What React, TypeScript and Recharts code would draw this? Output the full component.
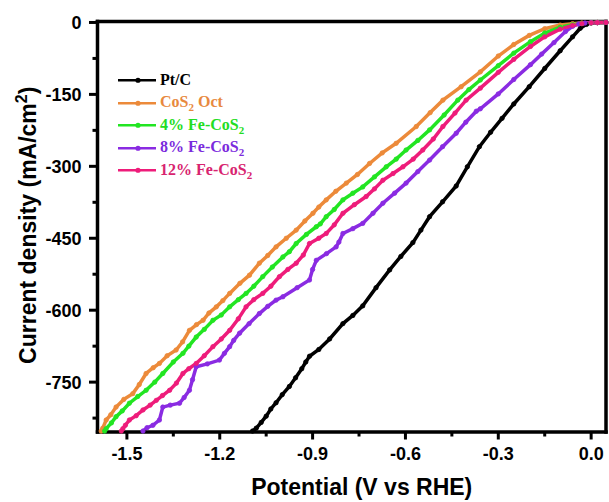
import React from 'react';
import { LineChart, Line, XAxis, YAxis, ReferenceLine } from 'recharts';

type Pt = [number, number];

// Potential (V vs RHE), current density (mA/cm2)
const ptC: Pt[] = [
  [0.048, -0.2], [0.02, -0.4], [0, -1], [-0.015, -4], [-0.035, -12], [-0.06, -30], [-0.1, -59],
  [-0.15, -96], [-0.2, -134], [-0.25, -170], [-0.288, -200], [-0.325, -229], [-0.361, -259],
  [-0.4, -301], [-0.436, -341], [-0.48, -374], [-0.522, -405], [-0.55, -433], [-0.576, -459],
  [-0.615, -488], [-0.651, -516], [-0.695, -553], [-0.738, -591], [-0.77, -611], [-0.802, -628],
  [-0.845, -660], [-0.88, -682], [-0.91, -696], [-0.922, -708], [-0.935, -722], [-0.955, -741],
  [-0.975, -759], [-0.998, -776], [-1.018, -793], [-1.035, -806], [-1.05, -821], [-1.066, -834],
  [-1.082, -846], [-1.094, -852],
];

const cos2Oct: Pt[] = [
  [0.048, 0], [0.02, -0.2], [0, -0.5], [-0.03, -1.2], [-0.06, -2.6], [-0.1, -5.5], [-0.15, -13],
  [-0.2, -27], [-0.25, -46], [-0.3, -70], [-0.358, -103], [-0.42, -134], [-0.479, -162],
  [-0.52, -188], [-0.565, -217], [-0.63, -252], [-0.675, -272], [-0.716, -294], [-0.755, -317],
  [-0.791, -335], [-0.825, -352], [-0.856, -370], [-0.88, -385], [-0.899, -398], [-0.925, -414],
  [-0.953, -433], [-0.985, -450], [-1.018, -468], [-1.045, -486], [-1.072, -502], [-1.104, -527],
  [-1.135, -544], [-1.168, -565], [-1.19, -580], [-1.211, -593], [-1.235, -606], [-1.254, -621],
  [-1.275, -630], [-1.298, -642], [-1.32, -666], [-1.341, -683], [-1.37, -695], [-1.395, -711],
  [-1.415, -720], [-1.438, -732], [-1.46, -755], [-1.481, -774], [-1.51, -786], [-1.535, -802],
  [-1.552, -818], [-1.567, -829], [-1.578, -846], [-1.583, -852],
];

const fe4: Pt[] = [
  [0.048, 0], [0.02, -0.3], [0, -0.7], [-0.03, -2], [-0.06, -4.5], [-0.1, -10], [-0.15, -22],
  [-0.196, -40], [-0.25, -64], [-0.3, -90], [-0.358, -120], [-0.395, -140], [-0.431, -162],
  [-0.475, -193], [-0.522, -224], [-0.56, -246], [-0.598, -266], [-0.63, -285], [-0.662, -301],
  [-0.7, -322], [-0.738, -343], [-0.77, -356], [-0.802, -370], [-0.83, -390], [-0.856, -405],
  [-0.875, -420], [-0.888, -426], [-0.92, -442], [-0.953, -461], [-0.975, -478], [-0.996, -489],
  [-1.03, -510], [-1.061, -530], [-1.09, -550], [-1.115, -565], [-1.14, -578], [-1.168, -593],
  [-1.195, -610], [-1.222, -621], [-1.25, -640], [-1.276, -656], [-1.3, -675], [-1.319, -690],
  [-1.35, -708], [-1.384, -732], [-1.41, -750], [-1.438, -767], [-1.465, -780], [-1.492, -794],
  [-1.515, -810], [-1.535, -822], [-1.55, -835], [-1.567, -847], [-1.572, -852],
];

const fe8: Pt[] = [
  [0.048, 0], [0.02, -0.3], [0, -0.5], [-0.02, -1.2], [-0.04, -3], [-0.06, -8], [-0.083, -19],
  [-0.12, -42], [-0.16, -66], [-0.196, -88], [-0.25, -119], [-0.3, -149], [-0.358, -180],
  [-0.371, -185], [-0.405, -208], [-0.436, -231], [-0.48, -259], [-0.522, -287], [-0.56, -311],
  [-0.598, -335], [-0.635, -356], [-0.673, -377], [-0.705, -398], [-0.738, -419], [-0.77, -430],
  [-0.802, -440], [-0.815, -458], [-0.824, -468], [-0.855, -482], [-0.888, -496], [-0.9, -515],
  [-0.91, -537], [-0.95, -553], [-0.996, -572], [-1.018, -579], [-1.045, -592], [-1.072, -607],
  [-1.105, -628], [-1.136, -648], [-1.155, -663], [-1.168, -676], [-1.185, -690], [-1.201, -704],
  [-1.24, -712], [-1.276, -718], [-1.288, -745], [-1.298, -767], [-1.315, -782], [-1.33, -794],
  [-1.36, -798], [-1.384, -802], [-1.395, -829], [-1.416, -840], [-1.435, -845], [-1.448, -852],
];

const fe12: Pt[] = [
  [0.048, 0], [0.02, -0.3], [0, -0.8], [-0.03, -2.5], [-0.06, -6], [-0.1, -14], [-0.15, -30],
  [-0.196, -50], [-0.25, -77], [-0.3, -104], [-0.358, -137], [-0.404, -162], [-0.44, -189],
  [-0.479, -217], [-0.51, -243], [-0.544, -266], [-0.575, -285], [-0.608, -301], [-0.64, -315],
  [-0.673, -329], [-0.7, -347], [-0.727, -363], [-0.765, -380], [-0.802, -398], [-0.83, -422],
  [-0.856, -440], [-0.88, -450], [-0.91, -461], [-0.93, -485], [-0.953, -502], [-0.98, -515],
  [-1.007, -530], [-1.035, -550], [-1.061, -565], [-1.09, -578], [-1.115, -593], [-1.14, -618],
  [-1.168, -642], [-1.195, -660], [-1.222, -676], [-1.25, -695], [-1.276, -711], [-1.3, -722],
  [-1.319, -732], [-1.34, -752], [-1.362, -767], [-1.385, -778], [-1.405, -788], [-1.425, -798],
  [-1.448, -808], [-1.47, -820], [-1.492, -829], [-1.505, -840], [-1.513, -847], [-1.518, -852],
];

const seriesNames = ['Pt/C', 'CoS2 Oct', '4% Fe-CoS2', '8% Fe-CoS2', '12% Fe-CoS2'];
const seriesColors = ['#000000', '#EC8A3A', '#22E522', '#8A2BE2', '#EE1C7A'];
const legendTextColors = ['#000000', '#E8893E', '#22DD22', '#7B2BDD', '#D8246F'];
const seriesValues = [ptC, cos2Oct, fe4, fe8, fe12];

const xMajorTicks = [-1.5, -1.2, -0.9, -0.6, -0.3, 0];
const xMinorTicks = [-1.35, -1.05, -0.75, -0.45, -0.15];
const yMajorTicks = [0, -150, -300, -450, -600, -750];
const yMinorTicks = [-75, -225, -375, -525, -675, -825];
const xDomain: [number, number] = [-1.595, 0.048];
const yDomain: [number, number] = [-854, 2];

const AX_FONT = '"Liberation Sans", Arial, Helvetica, sans-serif';
const LEG_FONT = '"Liberation Serif", "Times New Roman", Times, serif';

const isMajor = (v: number, list: number[]) => list.some((t) => Math.abs(t - v) < 1e-9);

const XTick = (props: any) => {
  const { x, y, payload } = props;
  const major = isMajor(payload.value, xMajorTicks);
  return (
    <g>
      <line x1={x} x2={x} y1={y} y2={y + (major ? 7.5 : 4.5)} stroke="#000" strokeWidth={3} />
      {major && (
        <text x={x} y={y + 28} textAnchor="middle" fontFamily={AX_FONT} fontWeight="bold" fontSize={18} fill="#000">
          {Number(payload.value).toFixed(1)}
        </text>
      )}
    </g>
  );
};

const YTick = (props: any) => {
  const { x, y, payload } = props;
  const major = isMajor(payload.value, yMajorTicks);
  return (
    <g>
      <line x1={x} x2={x - (major ? 8.5 : 5)} y1={y} y2={y} stroke="#000" strokeWidth={3} />
      {major && (
        <text x={x - 16} y={y + 6.5} textAnchor="end" fontFamily={AX_FONT} fontWeight="bold" fontSize={18} fill="#000">
          {String(payload.value)}
        </text>
      )}
    </g>
  );
};

const XLabel = (props: any) => {
  const vb = props.viewBox || { x: 97.5, y: 432, width: 508.5, height: 70 };
  return (
    <text x={vb.x + vb.width / 2 + 10} y={vb.y + 63} textAnchor="middle" fontFamily={AX_FONT} fontWeight="bold" fontSize={23} fill="#000">
      Potential (V vs RHE)
    </text>
  );
};

const YLabel = (props: any) => {
  const vb = props.viewBox || { x: 0, y: 21.5, width: 97.5, height: 410.5 };
  const cx = 36;
  const cy = vb.y + vb.height / 2 - 1.5;
  return (
    <text transform={`translate(${cx},${cy}) rotate(-90)`} x={0} y={0} textAnchor="middle" fontFamily={AX_FONT} fontWeight="bold" fontSize={23} fill="#000">
      <tspan>Current density (mA/cm</tspan>
      <tspan dy={-9} fontSize={16}>2</tspan>
      <tspan dy={9}>)</tspan>
    </text>
  );
};

const renderName = (n: string) => {
  const parts = n.split('CoS2');
  if (parts.length === 1) return n;
  return (
    <>
      {parts[0]}CoS<sub style={{ fontSize: 11, verticalAlign: 'baseline', position: 'relative', top: 4 }}>2</sub>
      {parts[1]}
    </>
  );
};

const LegendBox = () => (
  <div style={{ position: 'absolute', left: 116, top: 69, fontFamily: LEG_FONT, fontWeight: 'bold', fontSize: 16 }}>
    {seriesNames.map((n, i) => (
      <div key={n} style={{ display: 'flex', alignItems: 'center', height: 22.5 }}>
        <svg width={44} height={22.5} style={{ display: 'block' }}>
          <line x1={2} x2={40} y1={11.25} y2={11.25} stroke={seriesColors[i]} strokeWidth={2.5} />
          <circle cx={22} cy={11.25} r={2.6} fill={seriesColors[i]} />
        </svg>
        <span style={{ color: legendTextColors[i], lineHeight: '22.5px', whiteSpace: 'nowrap' }}>{renderName(n)}</span>
      </div>
    ))}
  </div>
);

export default function App() {
  const xTicks = [...xMinorTicks, ...xMajorTicks].sort((a, b) => a - b);
  const yTicks = [...yMinorTicks, ...yMajorTicks].sort((a, b) => a - b);
  return (
    <div style={{ position: 'absolute', left: 0, top: 0, width: 609, height: 502, background: '#fff' }}>
      <LineChart width={609} height={502} margin={{ top: 21.5, right: 3, bottom: 0, left: 0 }}>
        <XAxis
          type="number"
          dataKey="v"
          domain={xDomain}
          ticks={xTicks}
          interval={0}
          tickSize={0}
          tickMargin={0}
          tickLine={false}
          axisLine={{ stroke: '#000', strokeWidth: 3.5, strokeLinecap: 'square' }}
          height={70}
          tick={(p: any) => <XTick {...p} />}
          label={<XLabel />}
        />
        <YAxis
          type="number"
          domain={yDomain}
          ticks={yTicks}
          interval={0}
          tickSize={0}
          tickMargin={0}
          tickLine={false}
          axisLine={{ stroke: '#000', strokeWidth: 3.5, strokeLinecap: 'square' }}
          width={97.5}
          tick={(p: any) => <YTick {...p} />}
          label={<YLabel />}
        />
        <ReferenceLine y={yDomain[1]} stroke="#000" strokeWidth={3.5} strokeLinecap="square" />
        <ReferenceLine x={xDomain[1]} stroke="#000" strokeWidth={3.5} strokeLinecap="square" />
        {seriesValues.map((vals, i) => (
          <Line
            key={seriesNames[i]}
            name={seriesNames[i]}
            data={vals.map(([v, j]) => ({ v, j }))}
            dataKey="j"
            type="linear"
            stroke={seriesColors[i]}
            strokeWidth={3.5}
            dot={{ r: 2.2, fill: seriesColors[i], stroke: seriesColors[i], strokeWidth: 0.8 }}
            activeDot={false}
            isAnimationActive={false}
          />
        ))}
      </LineChart>
      <LegendBox />
    </div>
  );
}
